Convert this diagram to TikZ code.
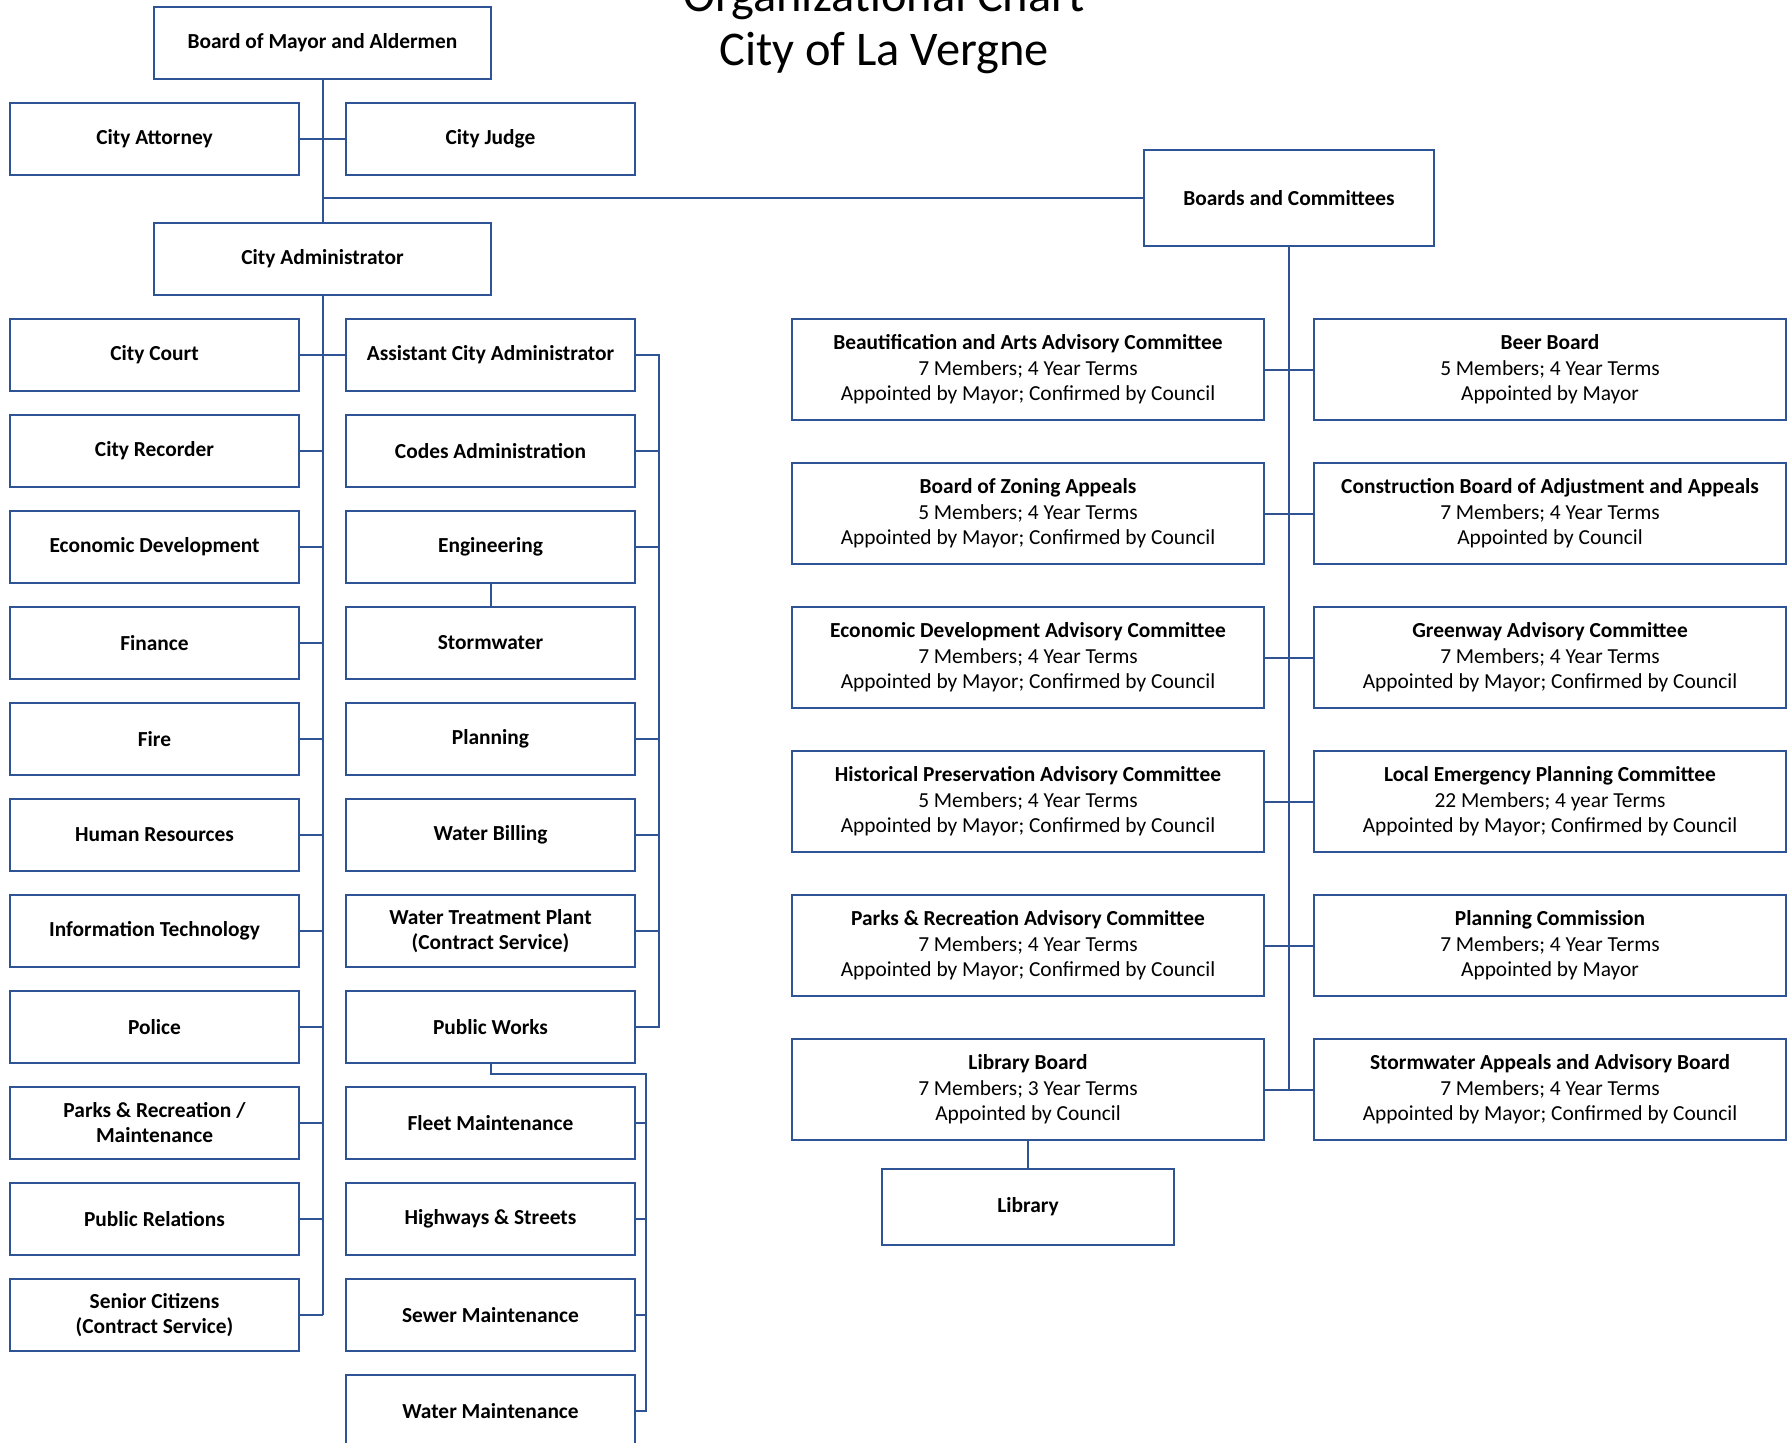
\documentclass[tikz,border=0pt]{standalone}
\usepackage{fontspec}
\setmainfont{Carlito}
\usepackage{xcolor}
\usepackage{tikz}
\usetikzlibrary{positioning}
\definecolor{chartblue}{HTML}{2F5496}

\begin{document}
\begin{tikzpicture}[
    x=0.5pt, y=-0.5pt,
    node distance=12pt,
    orgbox/.style={draw=chartblue, line width=1pt, outer sep=0pt, minimum width=144.5pt,
                 minimum height=36pt, inner sep=2pt, align=center,
                 font=\fontsize{10.7}{12.5}\selectfont\bfseries},
    cmtbox/.style={orgbox, minimum width=236pt, minimum height=50.5pt,
                 font=\fontsize{10.7}{12.8}\selectfont},
    titletext/.style={anchor=base, font=\fontsize{24.2}{24.2}\selectfont},
    link/.style={draw=chartblue, line width=1pt},
]
\useasboundingbox (0,0) rectangle (1787,1442);

% heading
\node[titletext] (title) at (884,11) {Organizational Chart};
\node[titletext] (city) at (884,65) {City of La Vergne};

% top of the chart
\node[orgbox, minimum width=168.5pt] (mayor) at (322.5,43) {Board of Mayor and Aldermen};
\node[orgbox] (attorney) at (154.5,139) {City Attorney};
\node[orgbox, right=23.5pt of attorney] (judge) {City Judge};
\node[orgbox, minimum width=168.5pt] (admin) at (322.5,259) {City Administrator};
\node[orgbox, minimum width=145pt, minimum height=48pt] (boards) at (1289,198) {Boards and Committees};

% departments under the administrator
\node[orgbox] (court) at (154.5,355) {City Court};
\node[orgbox, below=of court] (recorder) {City Recorder};
\node[orgbox, below=of recorder] (econdev) {Economic Development};
\node[orgbox, below=of econdev] (finance) {Finance};
\node[orgbox, below=of finance] (fire) {Fire};
\node[orgbox, below=of fire] (hr) {Human Resources};
\node[orgbox, below=of hr] (infotech) {Information Technology};
\node[orgbox, below=of infotech] (police) {Police};
\node[orgbox, below=of police] (parks) {Parks \& Recreation /\\Maintenance};
\node[orgbox, below=of parks] (relations) {Public Relations};
\node[orgbox, below=of relations] (senior) {Senior Citizens\\(Contract Service)};

% assistant administrator and public works
\node[orgbox, right=23.5pt of court] (asst) {Assistant City Administrator};
\node[orgbox, below=of asst] (codes) {Codes Administration};
\node[orgbox, below=of codes] (engineering) {Engineering};
\node[orgbox, below=of engineering] (stormwater) {Stormwater};
\node[orgbox, below=of stormwater] (planning) {Planning};
\node[orgbox, below=of planning] (billing) {Water Billing};
\node[orgbox, below=of billing] (treatment) {Water Treatment Plant\\(Contract Service)};
\node[orgbox, below=of treatment] (pubworks) {Public Works};
\node[orgbox, below=of pubworks] (fleet) {Fleet Maintenance};
\node[orgbox, below=of fleet] (highways) {Highways \& Streets};
\node[orgbox, below=of highways] (sewer) {Sewer Maintenance};
\node[orgbox, below=of sewer] (watermaint) {Water Maintenance};

% boards and committees
\node[cmtbox] (beautify) at (1028,369.5) {\textbf{Beautification and Arts Advisory Committee}\\7 Members; 4 Year Terms\\Appointed by Mayor; Confirmed by Council};
\node[cmtbox, right=25pt of beautify] (beer) {\textbf{Beer Board}\\5 Members; 4 Year Terms\\Appointed by Mayor};
\node[cmtbox, below=21.5pt of beautify] (zoning) {\textbf{Board of Zoning Appeals}\\5 Members; 4 Year Terms\\Appointed by Mayor; Confirmed by Council};
\node[cmtbox, right=25pt of zoning] (construction) {\textbf{Construction Board of Adjustment and Appeals}\\7 Members; 4 Year Terms\\Appointed by Council};
\node[cmtbox, below=21.5pt of zoning] (econcmt) {\textbf{Economic Development Advisory Committee}\\7 Members; 4 Year Terms\\Appointed by Mayor; Confirmed by Council};
\node[cmtbox, right=25pt of econcmt] (greenway) {\textbf{Greenway Advisory Committee}\\7 Members; 4 Year Terms\\Appointed by Mayor; Confirmed by Council};
\node[cmtbox, below=21.5pt of econcmt] (historic) {\textbf{Historical Preservation Advisory Committee}\\5 Members; 4 Year Terms\\Appointed by Mayor; Confirmed by Council};
\node[cmtbox, right=25pt of historic] (emergency) {\textbf{Local Emergency Planning Committee}\\22 Members; 4 year Terms\\Appointed by Mayor; Confirmed by Council};
\node[cmtbox, below=21.5pt of historic] (parkscmt) {\textbf{Parks \& Recreation Advisory Committee}\\7 Members; 4 Year Terms\\Appointed by Mayor; Confirmed by Council};
\node[cmtbox, right=25pt of parkscmt] (plancomm) {\textbf{Planning Commission}\\7 Members; 4 Year Terms\\Appointed by Mayor};
\node[cmtbox, below=21.5pt of parkscmt] (libboard) {\textbf{Library Board}\\7 Members; 3 Year Terms\\Appointed by Council};
\node[cmtbox, right=25pt of libboard] (stormboard) {\textbf{Stormwater Appeals and Advisory Board}\\7 Members; 4 Year Terms\\Appointed by Mayor; Confirmed by Council};
\node[orgbox, minimum width=146pt, minimum height=38pt, below=14.5pt of libboard] (library) {Library};

% main trunk
\coordinate (fork) at (mayor.south |- boards.west);
\draw[link] (mayor) -- (admin);
\draw[link] (attorney) -- (judge);
\draw[link] (fork) -- (boards);
\draw[link] (admin) -- (admin.south |- senior.east);
\draw[link] (court) -- (asst);
\draw[link] (recorder.east) -- (recorder.east -| admin.south);
\draw[link] (econdev.east) -- (econdev.east -| admin.south);
\draw[link] (finance.east) -- (finance.east -| admin.south);
\draw[link] (fire.east) -- (fire.east -| admin.south);
\draw[link] (hr.east) -- (hr.east -| admin.south);
\draw[link] (infotech.east) -- (infotech.east -| admin.south);
\draw[link] (police.east) -- (police.east -| admin.south);
\draw[link] (parks.east) -- (parks.east -| admin.south);
\draw[link] (relations.east) -- (relations.east -| admin.south);
\draw[link] (senior.east) -- (senior.east -| admin.south);

% assistant administrator bus
\coordinate (asstbus) at ([xshift=12pt]asst.east);
\draw[link] (asst.east) -- (asstbus) |- (pubworks.east);
\draw[link] (codes.east) -- (codes.east -| asstbus);
\draw[link] (engineering.east) -- (engineering.east -| asstbus);
\draw[link] (planning.east) -- (planning.east -| asstbus);
\draw[link] (billing.east) -- (billing.east -| asstbus);
\draw[link] (treatment.east) -- (treatment.east -| asstbus);
\draw[link] (engineering) -- (stormwater);

% public works bus
\coordinate (pwbus) at ([xshift=5.5pt, yshift=-5.5pt]pubworks.south east);
\draw[link] (pubworks.south) |- (pwbus) |- (watermaint.east);
\draw[link] (fleet.east) -- (fleet.east -| pwbus);
\draw[link] (highways.east) -- (highways.east -| pwbus);
\draw[link] (sewer.east) -- (sewer.east -| pwbus);

% committees
\draw[link] (boards) -- (boards.south |- libboard.east);
\draw[link] (beautify) -- (beer);
\draw[link] (zoning) -- (construction);
\draw[link] (econcmt) -- (greenway);
\draw[link] (historic) -- (emergency);
\draw[link] (parkscmt) -- (plancomm);
\draw[link] (libboard) -- (stormboard);
\draw[link] (libboard) -- (library);
\end{tikzpicture}
\end{document}
